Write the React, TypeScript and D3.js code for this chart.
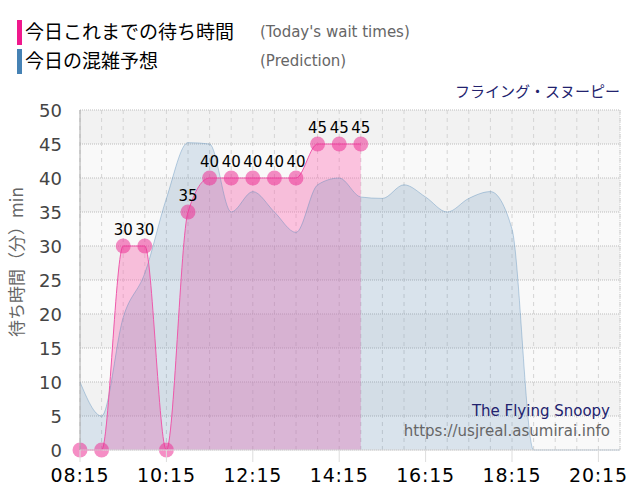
import React from "react";
import * as d3 from "d3";

const todayTimes = ["08:15","08:45","09:15","09:45","10:15","10:45","11:15","11:45","12:15","12:45","13:15","13:45","14:15","14:45"];
const todayValues = [0,0,30,30,0,35,40,40,40,40,40,45,45,45];

const predTimes = ["08:15","08:45","09:15","09:45","10:15","10:45","11:15","11:45","12:15","12:45","13:15","13:45","14:15","14:45","15:15","15:45","16:15","16:45","17:15","17:45","18:15","18:45","19:15","19:45","20:15","20:45"];
const predValues = [10,5,19.5,26,37,45.2,45,35,38,35,32,39,40,37.2,37,39,37.2,35,37,38,32.5,0,0,0,0,0];

const xTickLabels = ["08:15","10:15","12:15","14:15","16:15","18:15","20:15"];
const yTicks = [0,5,10,15,20,25,30,35,40,45,50];

const toMin = (t: string) => { const [h, m] = t.split(":").map(Number); return h * 60 + m; };

export default function App() {
  const W = 640, H = 500;
  const x = d3.scaleLinear().domain([toMin("08:15"), toMin("20:45")]).range([80, 620]);
  const y = d3.scaleLinear().domain([0, 50]).range([450, 110]);

  const today = todayTimes.map((t, i) => ({ t: toMin(t), v: todayValues[i] }));
  const pred = predTimes.map((t, i) => ({ t: toMin(t), v: predValues[i] }));

  const areaGen = d3.area<{ t: number; v: number }>().x(d => x(d.t)).y0(y(0)).y1(d => y(d.v)).curve(d3.curveMonotoneX);
  const lineGen = d3.line<{ t: number; v: number }>().x(d => x(d.t)).y(d => y(d.v)).curve(d3.curveMonotoneX);

  const gridMinutes = d3.range(toMin("08:15"), toMin("20:45") + 1, 30);
  const bands = d3.range(0, 50, 5);

  return (
    <svg width={W} height={H} style={{ position: "absolute", left: 0, top: 0, background: "#fff" }}>
      {/* legend */}
      <rect x={17} y={20} width={5} height={25} fill="#f0188c" />
      <text x={25} y={39} fontFamily="Noto Sans CJK JP" fontSize={19} fill="#000">今日これまでの待ち時間</text>
      <text x={260} y={37} fontFamily="DejaVu Sans" fontSize={15} fill="#666">(Today's wait times)</text>
      <rect x={17} y={49} width={5} height={25} fill="#4682b4" />
      <text x={25} y={68} fontFamily="Noto Sans CJK JP" fontSize={19} fill="#000">今日の混雑予想</text>
      <text x={260} y={66} fontFamily="DejaVu Sans" fontSize={15} fill="#666">(Prediction)</text>
      <text x={620} y={97} textAnchor="end" fontFamily="Noto Sans CJK JP" fontSize={15} fill="#22226e">フライング・スヌーピー</text>

      {/* bands */}
      {bands.map(b => (
        <rect key={b} x={80} y={y(b + 5)} width={540} height={y(b) - y(b + 5)} fill={(b / 5) % 2 === 1 ? "#f2f2f2" : "#f9f9f9"} />
      ))}
      {/* vertical dashed grid */}
      {gridMinutes.map(m => (
        <line key={m} x1={x(m)} x2={x(m)} y1={110} y2={450} stroke="#d4d4d4" strokeDasharray="4,4" />
      ))}
      {/* horizontal dotted grid */}
      {yTicks.map(v => (
        <line key={v} x1={80} x2={620} y1={y(v)} y2={y(v)} stroke="#bdbdbd" strokeDasharray="1,1" />
      ))}
      <line x1={620} x2={620} y1={110} y2={450} stroke="#cfcfcf" strokeDasharray="1,1" />

      {/* series */}
      <path d={areaGen(today) || ""} fill="rgba(255,105,180,0.38)" />
      <path d={areaGen(pred) || ""} fill="rgba(70,130,180,0.18)" />
      <path d={lineGen(pred) || ""} fill="none" stroke="rgba(70,130,180,0.35)" strokeWidth={1} />
      <path d={lineGen(today) || ""} fill="none" stroke="#ee5aab" strokeWidth={1} />
      {today.map((d, i) => (
        <circle key={i} cx={x(d.t)} cy={y(d.v)} r={7.5} fill="rgba(236,50,150,0.55)" />
      ))}
      {today.map((d, i) => d.v > 0 ? (
        <text key={"l" + i} x={x(d.t)} y={y(d.v) - 11} textAnchor="middle" fontFamily="DejaVu Sans" fontSize={15} fill="#000">{d.v}</text>
      ) : null)}

      {/* axes */}
      <line x1={80} x2={80} y1={110} y2={450} stroke="#aaa" />
      <line x1={80} x2={620} y1={450} y2={450} stroke="#ddd" />
      {xTickLabels.map(t => (
        <g key={t}>
          <line x1={x(toMin(t))} x2={x(toMin(t))} y1={450} y2={462} stroke="#ddd" />
          <text x={x(toMin(t))} y={482} textAnchor="middle" fontFamily="DejaVu Sans" fontSize={19} letterSpacing={0.8} fill="#000">{t}</text>
        </g>
      ))}
      {yTicks.map(v => (
        <text key={v} x={62} y={y(v) + 6.5} textAnchor="end" fontFamily="DejaVu Sans" fontSize={18} fill="#444">{v}</text>
      ))}
      <text transform="translate(23,262) rotate(-90)" textAnchor="middle" fontFamily="Noto Sans CJK JP" fontSize={17} fill="#666">待ち時間（分）min</text>

      {/* watermark */}
      <text x={610} y={416} textAnchor="end" fontFamily="DejaVu Sans" fontSize={15} fill="#22226e">The Flying Snoopy</text>
      <text x={610} y={436} textAnchor="end" fontFamily="DejaVu Sans" fontSize={15} fill="#666">https://usjreal.asumirai.info</text>
    </svg>
  );
}
